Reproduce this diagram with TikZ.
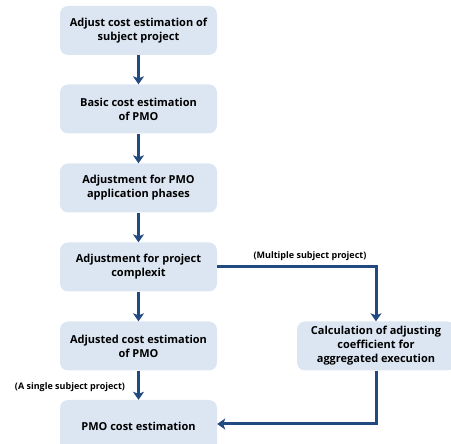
\documentclass[tikz,border=0pt]{standalone}
\usepackage{fontspec}
\setmainfont{Open Sans}
\usetikzlibrary{arrows.meta}
\definecolor{boxfill}{HTML}{DCE6F2}
\definecolor{arrowblue}{HTML}{214A80}
\begin{document}
\begin{tikzpicture}[x=1pt,y=-1pt,
  box/.style={draw=none,fill=boxfill,rounded corners=8pt,minimum width=157pt,minimum height=49pt,align=center,font=\fontsize{11}{14}\selectfont\bfseries,text=black,inner sep=2pt},
  conn/.style={draw=arrowblue,line width=3pt,-{Stealth[length=8pt,width=11pt,inset=2pt]}},
  lbl/.style={font=\fontsize{9}{10}\selectfont\bfseries,text=black,inner sep=0pt}]
\useasboundingbox (0,0) rectangle (451,444);
\clip (0,0) rectangle (451,444);
\node[box] (b1) at (138.5,30.5) {Adjust cost estimation of\\subject project};
\node[box] (b2) at (138.5,109) {Basic cost estimation\\of PMO};
\node[box] (b3) at (138.5,188) {Adjustment for PMO\\application phases};
\node[box] (b4) at (138.5,267) {Adjustment for project\\complexit};
\node[box] (b5) at (138.5,346) {Adjusted cost estimation\\of PMO};
\node[box,minimum height=52pt] (b6) at (138.5,426) {PMO cost estimation};
\node[box,minimum width=158pt] (r) at (376,346) {Calculation of adjusting\\coefficient for\\aggregated execution};
\coordinate (c1) at (376,424);
\draw[conn] (b1) -- (b2);
\draw[conn] (b2) -- (b3);
\draw[conn] (b3) -- (b4);
\draw[conn] (b4) -- (b5);
\draw[conn] (b5) -- (b6);
\draw[conn] (b4.east) -| (r.north);
\draw[conn] (r.south) -- (c1) -- (b6.east |- c1);
\node[lbl] (m) at (310,256) {(Multiple subject project)};
\node[lbl] (s) at (70,387) {(A single subject project)};
\end{tikzpicture}
\end{document}
